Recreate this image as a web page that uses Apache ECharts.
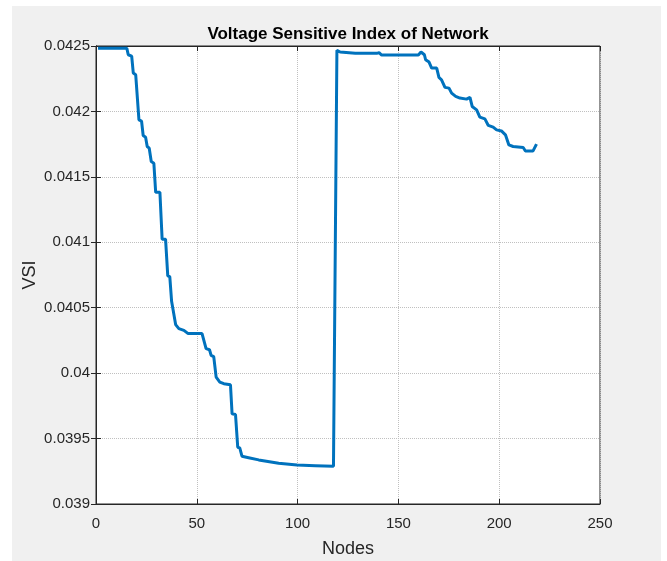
<!DOCTYPE html>
<html>
<head>
<meta charset="utf-8">
<script src="https://cdn.jsdelivr.net/npm/echarts@6/dist/echarts.min.js"></script>
<style>
html,body{margin:0;padding:0;background:#ffffff;}
#bg{position:absolute;left:12px;top:6px;width:649px;height:555px;background:#f0f0f0;}
#main{position:absolute;left:0;top:0;width:667px;height:561px;}
</style>
</head>
<body>
<div id="bg"></div>
<div id="main"></div>
<script>
var nodes = [1, 15.3, 16, 17.7, 18.5, 19.7, 21.3, 22.6, 23.4, 24.6, 25.4, 26.4, 27.4, 28.7, 29.6, 31.7, 32.8, 34.5, 35.6, 36.6, 37.5, 38.3, 39.5, 41.1, 43.6, 45.7, 52.6, 53.5, 54.6, 56.3, 57.1, 58.4, 59.6, 61.4, 63.4, 66.7, 67.5, 69.2, 70.3, 71.3, 72.4, 75.7, 80.7, 90.6, 99.7, 108.8, 117.8, 119.5, 121.1, 128.6, 139.3, 140.4, 141.7, 159.9, 161.2, 162.9, 163.5, 165.2, 166.5, 169, 170.1, 171.4, 173.1, 175.1, 176.4, 178.4, 180.5, 183.8, 185.5, 186.6, 188.8, 190.4, 192.9, 194.6, 197, 198.7, 201.1, 203.1, 204.8, 206.9, 211.9, 213, 216.8, 218.5];
var vsi = [0.042482, 0.042482, 0.042433, 0.042423, 0.042293, 0.04228, 0.041935, 0.041926, 0.041816, 0.041803, 0.041732, 0.041719, 0.041617, 0.041604, 0.041382, 0.041382, 0.041024, 0.041024, 0.040744, 0.040738, 0.040549, 0.040547, 0.040371, 0.04034, 0.040327, 0.040302, 0.040302, 0.040307, 0.040187, 0.040179, 0.040136, 0.040126, 0.03997, 0.039932, 0.039919, 0.039911, 0.039689, 0.039684, 0.039434, 0.039429, 0.039365, 0.039354, 0.039337, 0.039311, 0.039298, 0.039293, 0.039288, 0.042467, 0.042454, 0.042444, 0.042444, 0.042449, 0.042431, 0.042431, 0.042454, 0.042433, 0.042395, 0.042377, 0.042331, 0.042331, 0.04226, 0.042242, 0.042184, 0.042178, 0.04214, 0.042115, 0.042102, 0.042094, 0.042107, 0.042038, 0.042012, 0.041956, 0.041943, 0.041893, 0.04188, 0.041859, 0.041851, 0.041821, 0.041744, 0.041732, 0.041724, 0.041698, 0.041698, 0.04175];
var xTicks = [0, 50, 100, 150, 200, 250];
var yTicks = [0.039, 0.0395, 0.04, 0.0405, 0.041, 0.0415, 0.042, 0.0425];

var data = nodes.map(function (n, i) { return [n, vsi[i]]; });
var textColor = '#262626';
var font = '"Liberation Sans", Arial, sans-serif';

var chart = echarts.init(document.getElementById('main'));
chart.setOption({
  animation: false,
  textStyle: { fontFamily: font },
  title: {
    text: 'Voltage Sensitive Index of Network',
    left: 343, top: 21, textAlign: 'center',
    textStyle: { fontSize: 17, fontWeight: 'bold', color: '#000', fontFamily: font }
  },
  grid: {
    left: 96, top: 46, width: 504, height: 458, outerBoundsMode: 'none', containLabel: false,
    show: true, backgroundColor: '#ffffff', borderColor: '#262626', borderWidth: 1
  },
  xAxis: [{
    type: 'value', min: xTicks[0], max: xTicks[xTicks.length - 1], interval: 50,
    name: 'Nodes', nameLocation: 'middle', nameGap: 36,
    nameTextStyle: { fontSize: 18, color: textColor, fontFamily: font },
    axisLine: { show: true, lineStyle: { color: '#262626', width: 1 } },
    axisTick: { show: true, inside: true, length: 5, lineStyle: { color: '#262626' } },
    axisLabel: { fontSize: 15, color: textColor, margin: 12, fontFamily: font },
    splitLine: { show: true, lineStyle: { color: '#c0c0c0', type: 'dotted', width: 1 } }
  }, {
    type: 'value', position: 'top', min: 0, max: 250, interval: 50,
    axisLine: { show: true, lineStyle: { color: '#262626', width: 1 } },
    axisTick: { show: true, inside: true, length: 5, lineStyle: { color: '#262626' } },
    axisLabel: { show: false }, splitLine: { show: false }
  }],
  yAxis: [{
    type: 'value', min: yTicks[0], max: yTicks[yTicks.length - 1], interval: 0.0005,
    name: 'VSI', nameLocation: 'middle', nameGap: 57, nameRotate: 90, nameMoveOverlap: false,
    nameTextStyle: { fontSize: 18, color: textColor, fontFamily: font },
    axisLine: { show: true, lineStyle: { color: '#262626', width: 1 } },
    axisTick: { show: true, inside: true, length: 5, lineStyle: { color: '#262626' } },
    axisLabel: {
      fontSize: 15, color: textColor, margin: 6, fontFamily: font,
      formatter: function (v) { return String(Number(v.toFixed(5))); }
    },
    splitLine: { show: true, lineStyle: { color: '#c0c0c0', type: 'dotted', width: 1 } }
  }, {
    type: 'value', position: 'right', min: 0.039, max: 0.0425, interval: 0.0005,
    axisLine: { show: true, lineStyle: { color: '#262626', width: 1 } },
    axisTick: { show: true, inside: true, length: 5, lineStyle: { color: '#262626' } },
    axisLabel: { show: false }, splitLine: { show: false }
  }],
  series: [{
    type: 'line', xAxisIndex: 0, yAxisIndex: 0,
    data: data, showSymbol: false, symbol: 'none',
    lineStyle: { color: '#0072BD', width: 3 },
    itemStyle: { color: '#0072BD' }
  }]
});
</script>
</body>
</html>
